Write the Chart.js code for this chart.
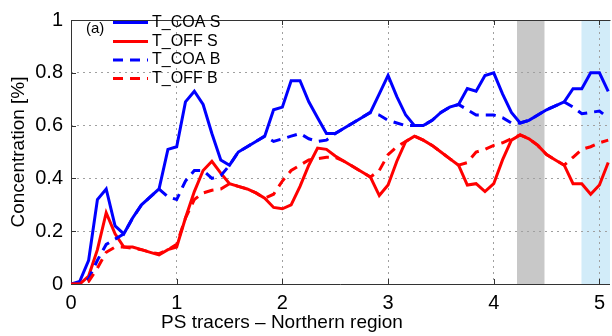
<!DOCTYPE html>
<html>
<head>
<meta charset="utf-8">
<script src="https://cdn.jsdelivr.net/npm/chart.js@4.4.1/dist/chart.umd.min.js"></script>
<style>
  html, body { margin: 0; padding: 0; background: #fff; }
  canvas { display: block; }
</style>
</head>
<body>
<canvas id="tracerChart" width="612" height="336"></canvas>
<script>
// sample times (2-hourly steps)
const tracerTime = [
    0, 0.083, 0.167, 0.25, 0.333, 0.417, 0.5, 0.583, 0.667, 0.75, 0.833, 0.917,
    1, 1.083, 1.167, 1.25, 1.333, 1.417, 1.5, 1.583, 1.667, 1.75, 1.833, 1.917,
    2, 2.083, 2.167, 2.25, 2.333, 2.417, 2.5, 2.583, 2.667, 2.75, 2.833, 2.917,
    3, 3.083, 3.167, 3.25, 3.333, 3.417, 3.5, 3.583, 3.667, 3.75, 3.833, 3.917,
    4, 4.083, 4.167, 4.25, 4.333, 4.417, 4.5, 4.583, 4.667, 4.75, 4.833, 4.917,
    5, 5.083
];
const coaSurface = [
    0, 0.01, 0.09, 0.32, 0.36, 0.22, 0.19, 0.25, 0.30, 0.33, 0.36, 0.51,
    0.52, 0.69, 0.73, 0.68, 0.57, 0.47, 0.45, 0.50, 0.52, 0.54, 0.56, 0.66,
    0.67, 0.77, 0.77, 0.69, 0.63, 0.57, 0.57, 0.59, 0.61, 0.63, 0.65, 0.72,
    0.79, 0.71, 0.64, 0.60, 0.60, 0.62, 0.65, 0.67, 0.68, 0.74, 0.73, 0.79,
    0.80, 0.72, 0.65, 0.61, 0.62, 0.64, 0.66, 0.675, 0.69, 0.74, 0.74, 0.80,
    0.80, 0.73
];
const offSurface = [
    0, 0, 0.03, 0.13, 0.27, 0.19, 0.14, 0.14, 0.13, 0.12, 0.11, 0.13,
    0.14, 0.25, 0.35, 0.43, 0.465, 0.42, 0.38, 0.37, 0.36, 0.345, 0.325, 0.29,
    0.285, 0.30, 0.37, 0.45, 0.515, 0.51, 0.485, 0.465, 0.445, 0.425, 0.405, 0.335,
    0.375, 0.465, 0.54, 0.56, 0.545, 0.525, 0.50, 0.475, 0.45, 0.375, 0.38, 0.35,
    0.38, 0.47, 0.545, 0.565, 0.55, 0.525, 0.49, 0.47, 0.45, 0.38, 0.38, 0.34,
    0.375, 0.46
];
const coaBottom = [
    0, 0, 0.02, 0.09, 0.15, 0.17, 0.19, 0.25, 0.30, 0.33, 0.36, 0.33,
    0.32, 0.39, 0.43, 0.43, 0.40, 0.41, 0.45, 0.50, 0.52, 0.54, 0.56, 0.54,
    0.55, 0.56, 0.57, 0.55, 0.54, 0.545, 0.57, 0.59, 0.61, 0.63, 0.65, 0.64,
    0.62, 0.61, 0.60, 0.60, 0.60, 0.62, 0.65, 0.67, 0.68, 0.66, 0.64, 0.64,
    0.64, 0.63, 0.61, 0.61, 0.62, 0.64, 0.66, 0.675, 0.69, 0.67, 0.645, 0.65,
    0.655, 0.63
];
const offBottom = [
    0, 0, 0.01, 0.06, 0.12, 0.14, 0.14, 0.135, 0.13, 0.12, 0.115, 0.13,
    0.15, 0.25, 0.32, 0.345, 0.355, 0.36, 0.38, 0.37, 0.36, 0.345, 0.325, 0.34,
    0.39, 0.43, 0.45, 0.47, 0.475, 0.48, 0.48, 0.465, 0.445, 0.425, 0.405, 0.43,
    0.49, 0.52, 0.54, 0.56, 0.545, 0.525, 0.50, 0.475, 0.45, 0.46, 0.50, 0.51,
    0.525, 0.535, 0.55, 0.565, 0.55, 0.525, 0.49, 0.47, 0.45, 0.48, 0.51, 0.52,
    0.535, 0.545
];
const seriesNames = ['T_COA S', 'T_OFF S', 'T_COA B', 'T_OFF B'];
const xTicks = [0, 1, 2, 3, 4, 5];
const yTicks = [0, 0.2, 0.4, 0.6, 0.8, 1];
const grayBand = [4.22, 4.48];
const blueBand = [4.83, 5.1];
const panelTag = '(a)';
const xTitle = 'PS tracers – Northern region';

const FONT = '"Liberation Sans", Arial, Helvetica, sans-serif';
const DASH = [10, 7];

Chart.defaults.font.family = FONT;
Chart.defaults.color = '#000';

function toPoints(values){
    return values.map((v, i) => ({x: tracerTime[i], y: v}));
}

function makeDataset(name, values, color, dashed, order){
    return {
        label: name,
        data: toPoints(values),
        borderColor: color,
        backgroundColor: color,
        borderWidth: 3,
        borderDash: dashed ? DASH : [],
        pointRadius: 0,
        tension: 0,
        fill: false,
        order: order
    };
}

// shaded periods, painted under the grid
const bandPlugin = {
    id: 'bands',
    beforeDraw(chart){
        const {ctx, chartArea, scales} = chart;
        const paint = (band, color) => {
            const x0 = scales.x.getPixelForValue(band[0]);
            const x1 = scales.x.getPixelForValue(band[1]);
            ctx.save();
            ctx.fillStyle = color;
            ctx.fillRect(x0, chartArea.top, x1 - x0, chartArea.bottom - chartArea.top);
            ctx.restore();
        };
        paint(grayBand, '#c8c8c8');
        paint(blueBand, '#d2ecf9');
    }
};

// matlab like box with inward ticks
const boxPlugin = {
    id: 'box',
    beforeDatasetsDraw(chart){
        const {ctx, chartArea: a, scales} = chart;
        ctx.save();
        ctx.strokeStyle = '#333';
        ctx.lineWidth = 1;
        ctx.beginPath();
        ctx.moveTo(a.left + 0.5, a.top + 0.5);
        ctx.lineTo(a.right + 0.5, a.top + 0.5);
        ctx.moveTo(a.left + 0.5, a.top);
        ctx.lineTo(a.left + 0.5, a.bottom + 0.5);
        ctx.lineTo(a.right, a.bottom + 0.5);
        xTicks.forEach(v => {
            const x = Math.round(scales.x.getPixelForValue(v)) + 0.5;
            ctx.moveTo(x, a.bottom); ctx.lineTo(x, a.bottom - 5);
            ctx.moveTo(x, a.top); ctx.lineTo(x, a.top + 5);
        });
        yTicks.forEach(v => {
            const y = Math.round(scales.y.getPixelForValue(v)) + 0.5;
            ctx.moveTo(a.left, y); ctx.lineTo(a.left + 5, y);
        });
        ctx.stroke();
        ctx.restore();
    }
};

const legendPlugin = {
    id: 'innerLegend',
    afterDraw(chart){
        const ctx = chart.ctx;
        const rows = [22.5, 41.5, 60, 78.5];
        ctx.save();
        chart.data.datasets.forEach((ds, i) => {
            const y = rows[i];
            ctx.strokeStyle = ds.borderColor;
            ctx.lineWidth = 3;
            ctx.setLineDash(ds.borderDash);
            ctx.beginPath();
            ctx.moveTo(113, y);
            ctx.lineTo(148, y);
            ctx.stroke();
            ctx.setLineDash([]);
            ctx.fillStyle = '#000';
            ctx.font = '16px ' + FONT;
            ctx.textBaseline = 'middle';
            ctx.textAlign = 'left';
            ctx.fillText(ds.label, 152, y);
        });
        ctx.font = '15px ' + FONT;
        ctx.fillText(panelTag, 86, 29);

        // x label sits left of the axes centre in the original figure
        ctx.font = '19px ' + FONT;
        ctx.textAlign = 'center';
        ctx.fillText(xTitle, 282, 323);
        ctx.restore();
    }
};

const gridColor = (edgeValues) => (c) => edgeValues.includes(c.tick.value) ? 'rgba(0,0,0,0)' : '#a0a0a0';

const ctx = document.getElementById('tracerChart').getContext('2d');
new Chart(ctx, {
    type: 'line',
    data: {
        datasets: [
            makeDataset(seriesNames[0], coaSurface, '#0000ff', false, 3),
            makeDataset(seriesNames[1], offSurface, '#ff0000', false, 2),
            makeDataset(seriesNames[2], coaBottom, '#0000ff', true, 1),
            makeDataset(seriesNames[3], offBottom, '#ff0000', true, 0)
        ]
    },
    options: {
        responsive: false,
        animation: false,
        devicePixelRatio: 1,
        layout: { padding: { top: 14, right: 0, left: 0, bottom: 0 } },
        plugins: {
            legend: { display: false },
            tooltip: { enabled: false }
        },
        scales: {
            x: {
                type: 'linear',
                min: 0,
                max: 5.1,
                afterBuildTicks: s => { s.ticks = xTicks.map(v => ({value: v})); },
                afterFit: s => { s.height = 52; },
                ticks: {
                    font: { size: 20 },
                    padding: 7,
                    maxRotation: 0,
                    callback: v => String(v)
                },
                grid: { color: gridColor([0]), lineWidth: 1, drawTicks: false },
                border: { display: false, dash: [2, 4] }
            },
            y: {
                min: 0,
                max: 1,
                afterBuildTicks: s => { s.ticks = yTicks.map(v => ({value: v})); },
                afterFit: s => { s.width = 71; },
                ticks: {
                    font: { size: 20 },
                    padding: 8,
                    callback: v => String(v)
                },
                grid: { color: gridColor([0, 1]), lineWidth: 1, drawTicks: false },
                border: { display: false, dash: [2, 4] },
                title: {
                    display: true,
                    text: 'Concentration [%]',
                    font: { size: 19 },
                    padding: { top: 7, bottom: 0 }
                }
            }
        }
    },
    plugins: [bandPlugin, boxPlugin, legendPlugin]
});
</script>
</body>
</html>
